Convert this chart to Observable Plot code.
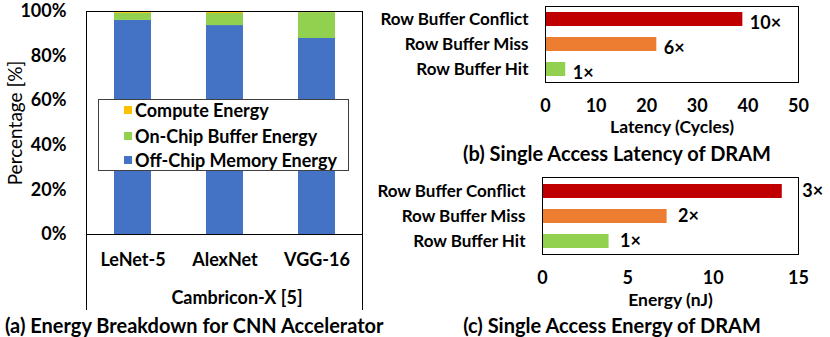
<!DOCTYPE html>
<html><head><meta charset="utf-8">
<script src="https://cdn.jsdelivr.net/npm/d3@7"></script>
<script src="https://cdn.jsdelivr.net/npm/@observablehq/plot@0.6"></script>
<style>
body{margin:0;background:#fff;}
#root{position:relative;width:830px;height:337px;overflow:hidden;font-family:Lato,sans-serif;color:#000;background:#fff;}
.abs{position:absolute;white-space:nowrap;line-height:1;}
.plot-wrap{position:absolute;}
</style></head><body><div id="root"></div>
<script>
// ---- Panel (a) data ----
const networks = ["LeNet-5", "AlexNet", "VGG-16"];
const components = ["Off-Chip Memory Energy", "On-Chip Buffer Energy", "Compute Energy"];
const offChipEnergy = [96.0, 93.7, 87.9];
const onChipEnergy = [3.2, 5.4, 11.6];
const computeEnergy = [0.8, 0.9, 0.5];
const componentColors = ["#4472C4", "#92D050", "#FFC000"];
const legendOrder = ["Compute Energy", "On-Chip Buffer Energy", "Off-Chip Memory Energy"];
const percentTicks = [0, 20, 40, 60, 80, 100];

// ---- Panels (b),(c) data ----
const accessTypes = ["Row Buffer Conflict", "Row Buffer Miss", "Row Buffer Hit"];
const accessColors = ["#C00000", "#ED7D31", "#92D050"];
const latencyCycles = [39, 22, 4];
const latencyLabels = ["10×", "6×", "1×"];
const latencyTicks = [0, 10, 20, 30, 40, 50];
const energyNJ = [14.05, 7.3, 3.9];
const energyLabels = ["3×", "2×", "1×"];
const energyTicks = [0, 5, 10, 15];

const root = document.getElementById("root");
const FONT = "Lato, sans-serif";
const INK = "#000";

function place(el, left, top) {
  const w = document.createElement("div");
  w.className = "plot-wrap";
  w.style.left = left + "px"; w.style.top = top + "px";
  w.appendChild(el); root.appendChild(w); return w;
}
function label(text, x, y, opts = {}) {
  const d = document.createElement("div");
  d.className = "abs";
  d.textContent = text;
  d.style.left = x + "px"; d.style.top = y + "px";
  d.style.fontSize = (opts.size || 18) + "px";
  d.style.fontWeight = opts.weight || 700;
  const tx = opts.anchor === "start" ? "0" : "-50%";
  d.style.transform = `translate(${tx},-50%)`;
  root.appendChild(d); return d;
}

// ---- Panel (a) ----
const dataA = [];
networks.forEach((n, i) => {
  dataA.push({network: n, component: components[0], value: offChipEnergy[i]});
  dataA.push({network: n, component: components[1], value: onChipEnergy[i]});
  dataA.push({network: n, component: components[2], value: computeEnergy[i]});
});

const plotA = Plot.plot({
  width: 365, height: 312,
  marginLeft: 86, marginRight: 2, marginTop: 11, marginBottom: 78,
  style: {fontFamily: FONT, fontSize: "17px", fontWeight: 700, background: "transparent", color: INK},
  x: {domain: networks, paddingInner: 0.6, paddingOuter: 0.3, label: null},
  y: {domain: [0, 100], label: null},
  color: {domain: components, range: componentColors},
  marks: [
    Plot.barY(dataA, {x: "network", y: "value", fill: "component", order: null}),
    Plot.ruleY([0], {stroke: INK, strokeWidth: 1}),
    Plot.axisX({tickSize: 0, tickPadding: 19, label: null, fontSize: 18, fill: INK}),
    Plot.axisY({ticks: percentTicks, tickFormat: d => d + "%", tickSize: 0, tickPadding: 20, label: null, fontSize: 18, fill: INK}),
    Plot.text(["Percentage [%]"], {text: d => d, frameAnchor: "left", rotate: -90, dx: -71, textAnchor: "middle", lineAnchor: "middle", fontSize: 19, fontWeight: 400, fill: INK}),
    Plot.text(["Cambricon-X [5]"], {text: d => d, frameAnchor: "bottom", dx: 12, dy: 64, textAnchor: "middle", lineAnchor: "middle", fontSize: 18, fill: INK})
  ]
});
place(plotA, 0, 0);

// outer box of panel (a)
const box = document.createElement("div");
box.style.cssText = "position:absolute;left:86px;top:11px;width:277px;height:299px;border:1px solid #000;border-bottom:none;box-sizing:border-box;";
root.appendChild(box);

// legend (a)
const leg = document.createElement("div");
leg.style.cssText = "position:absolute;left:98px;top:99px;width:251px;height:72px;border:1px solid #404040;background:#fff;box-sizing:border-box;";
root.appendChild(leg);
const legendRowsY = [110, 135.5, 160];
legendOrder.forEach((name, i) => {
  const c = componentColors[components.indexOf(name)];
  const sw = document.createElement("div");
  sw.style.cssText = `position:absolute;left:124px;top:${legendRowsY[i] - 4}px;width:8px;height:8px;background:${c};`;
  root.appendChild(sw);
  label(name, 135, legendRowsY[i], {anchor: "start", size: 18});
});

label("(a) Energy Breakdown for CNN Accelerator", 5, 325, {anchor: "start", size: 20});

// ---- Panel (b) ----
const dataB = accessTypes.map((t, i) => ({type: t, value: latencyCycles[i], label: latencyLabels[i]}));
const plotB = Plot.plot({
  width: 465, height: 140,
  marginLeft: 180, marginRight: 32, marginTop: 6, marginBottom: 58,
  style: {fontFamily: FONT, fontSize: "17px", fontWeight: 700, background: "transparent", color: INK},
  x: {domain: [0, 50], label: null},
  y: {domain: accessTypes, paddingInner: 0.45, paddingOuter: 0.225, label: null},
  color: {domain: accessTypes, range: accessColors},
  marks: [
    Plot.barX(dataB, {x: "value", y: "type", fill: "type"}),
    Plot.frame({stroke: INK, strokeWidth: 1}),
    Plot.text(dataB, {x: "value", y: "type", text: "label", dx: 7, dy: 4, textAnchor: "start", fontSize: 18, fill: INK}),
    Plot.axisX({ticks: latencyTicks, tickSize: 0, tickPadding: 17, label: null, fontSize: 18, fill: INK}),
    Plot.axisY({tickSize: 0, tickPadding: 17, label: null, fontSize: 17, fill: INK}),
    Plot.text(["Latency (Cycles)"], {text: d => d, frameAnchor: "bottom", dy: 45, textAnchor: "middle", lineAnchor: "middle", fontSize: 17.5, fill: INK})
  ]
});
place(plotB, 365, 0);
label("(b) Single Access Latency of DRAM", 617, 153, {size: 20});

// ---- Panel (c) ----
const dataC = accessTypes.map((t, i) => ({type: t, value: energyNJ[i], label: energyLabels[i]}));
const plotC = Plot.plot({
  width: 465, height: 145,
  marginLeft: 177, marginRight: 32, marginTop: 12, marginBottom: 56,
  style: {fontFamily: FONT, fontSize: "17px", fontWeight: 700, background: "transparent", color: INK},
  x: {domain: [0, 15], label: null},
  y: {domain: accessTypes, paddingInner: 0.44, paddingOuter: 0.22, label: null},
  color: {domain: accessTypes, range: accessColors},
  marks: [
    Plot.barX(dataC, {x: "value", y: "type", fill: "type"}),
    Plot.frame({stroke: INK, strokeWidth: 1}),
    Plot.text(dataC.filter(d => d.type === accessTypes[0]), {x: "value", y: "type", text: "label", dx: 20, textAnchor: "start", fontSize: 18, fill: INK}),
    Plot.text(dataC.filter(d => d.type !== accessTypes[0]), {x: "value", y: "type", text: "label", dx: 11, textAnchor: "start", fontSize: 18, fill: INK}),
    Plot.axisX({ticks: energyTicks, tickSize: 0, tickPadding: 17, label: null, fontSize: 18, fill: INK}),
    Plot.axisY({tickSize: 0, tickPadding: 17, label: null, fontSize: 17, fill: INK}),
    Plot.text(["Energy (nJ)"], {text: d => d, frameAnchor: "bottom", dy: 46, textAnchor: "middle", lineAnchor: "middle", fontSize: 17.5, fill: INK})
  ]
});
place(plotC, 365, 165);
label("(c) Single Access Energy of DRAM", 612, 325, {size: 20});
</script></body></html>
